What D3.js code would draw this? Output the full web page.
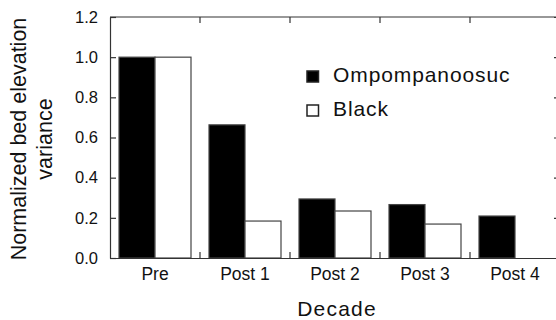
<!DOCTYPE html>
<html>
<head>
<meta charset="utf-8">
<script src="https://cdn.jsdelivr.net/npm/d3@7"></script>
<style>
  body { margin: 0; background: #fff; }
  svg { display: block; font-family: "Liberation Sans", Arial, Helvetica, sans-serif; }
  .axis path, .axis line { stroke: #333; stroke-width: 1.2; }
  .axis text { fill: #111; }
</style>
</head>
<body>
<div id="chart"></div>
<script>
const WIDTH = 556;
const HEIGHT = 320;
const MARGINS = {left: 110, right: -4, top: 17, bottom: 62};

// data
const decades = ["Pre", "Post 1", "Post 2", "Post 3", "Post 4"];
const rivers = ["Ompompanoosuc", "Black"];
const ompompanoosuc = [1.0, 0.663, 0.294, 0.266, 0.209];
const black = [1.0, 0.184, 0.234, 0.169, null];
const yTicks = [0.0, 0.2, 0.4, 0.6, 0.8, 1.0, 1.2];

const rows = decades.map((d, i) => ({decade: d, values: [
  {river: rivers[0], value: ompompanoosuc[i]},
  {river: rivers[1], value: black[i]}
]}));

const svg = d3.select("#chart").append("svg")
  .attr("width", WIDTH)
  .attr("height", HEIGHT);

const x = d3.scaleBand()
  .domain(decades)
  .range([MARGINS.left, WIDTH - MARGINS.right]);

const xInner = d3.scaleBand()
  .domain(rivers)
  .range([0, x.bandwidth()])
  .paddingInner(0)
  .paddingOuter(0.25);

const y = d3.scaleLinear()
  .domain([0, 1.2])
  .range([HEIGHT - MARGINS.bottom, MARGINS.top]);

const fills = {Ompompanoosuc: "#000", Black: "#fff"};

// bars
const groups = svg.selectAll("g.decade")
  .data(rows)
  .enter().append("g")
    .attr("class", "decade")
    .attr("transform", d => "translate(" + x(d.decade) + ",0)");

groups.selectAll("rect")
  .data(d => d.values.filter(v => v.value != null))
  .enter().append("rect")
    .attr("x", d => xInner(d.river))
    .attr("y", d => y(d.value))
    .attr("width", xInner.bandwidth())
    .attr("height", d => y(0) - y(d.value))
    .attr("fill", d => fills[d.river])
    .attr("stroke", "#444")
    .attr("stroke-width", 1.2);

// left axis
svg.append("g")
  .attr("class", "axis")
  .attr("transform", "translate(" + MARGINS.left + ",0)")
  .call(d3.axisLeft(y).tickValues(yTicks).tickFormat(d3.format(".1f"))
    .tickSizeInner(-6).tickSizeOuter(0).tickPadding(12))
  .attr("font-size", "16.5px")
  .attr("font-family", null);

// right axis (ticks only, frame edge sits just past the window)
svg.append("g")
  .attr("class", "axis")
  .attr("transform", "translate(" + (WIDTH - MARGINS.right) + ",0)")
  .call(d3.axisRight(y).tickValues(yTicks).tickFormat("")
    .tickSizeInner(-6).tickSizeOuter(0));

// bottom axis, labels at band centres
svg.append("g")
  .attr("class", "axis")
  .attr("transform", "translate(0," + y(0) + ")")
  .call(d3.axisBottom(x).tickSize(0).tickPadding(10))
  .attr("font-size", "17.5px")
  .attr("font-family", null);

// top frame line
svg.append("line")
  .attr("x1", MARGINS.left).attr("x2", WIDTH)
  .attr("y1", MARGINS.top).attr("y2", MARGINS.top)
  .attr("stroke", "#333").attr("stroke-width", 1.2);

// ticks on the category boundaries, pointing inward
const bounds = decades.slice(1);
svg.selectAll("line.btick")
  .data(bounds)
  .enter().append("line")
    .attr("class", "btick")
    .attr("x1", d => x(d)).attr("x2", d => x(d))
    .attr("y1", y(0)).attr("y2", y(0) - 6)
    .attr("stroke", "#333").attr("stroke-width", 1.2);
svg.selectAll("line.ttick")
  .data(bounds)
  .enter().append("line")
    .attr("class", "ttick")
    .attr("x1", d => x(d)).attr("x2", d => x(d))
    .attr("y1", MARGINS.top).attr("y2", MARGINS.top + 6)
    .attr("stroke", "#333").attr("stroke-width", 1.2);

// axis titles
svg.append("text")
  .attr("x", 337)
  .attr("y", 316)
  .attr("text-anchor", "middle")
  .attr("font-size", "21px")
  .attr("letter-spacing", "1.2px")
  .attr("fill", "#111")
  .text("Decade");

const yTitle = svg.append("text")
  .attr("transform", "translate(26,139) rotate(-90)")
  .attr("text-anchor", "middle")
  .attr("font-size", "21.5px")
  .attr("fill", "#111");
yTitle.append("tspan").attr("x", 0).attr("y", 0).text("Normalized bed elevation");
yTitle.append("tspan").attr("x", 0).attr("y", 26).text("variance");

// legend
const legend = svg.selectAll("g.legend")
  .data(rivers)
  .enter().append("g")
    .attr("class", "legend")
    .attr("transform", (d, i) => "translate(307," + (71 + i * 34) + ")");

legend.append("rect")
  .attr("width", 11.5)
  .attr("height", 11)
  .attr("fill", d => fills[d])
  .attr("stroke", "#222")
  .attr("stroke-width", 1.5);

legend.append("text")
  .attr("x", 26)
  .attr("y", 11)
  .attr("font-size", "21px")
  .attr("letter-spacing", "0.9px")
  .attr("fill", "#111")
  .text(d => d);
</script>
</body>
</html>
